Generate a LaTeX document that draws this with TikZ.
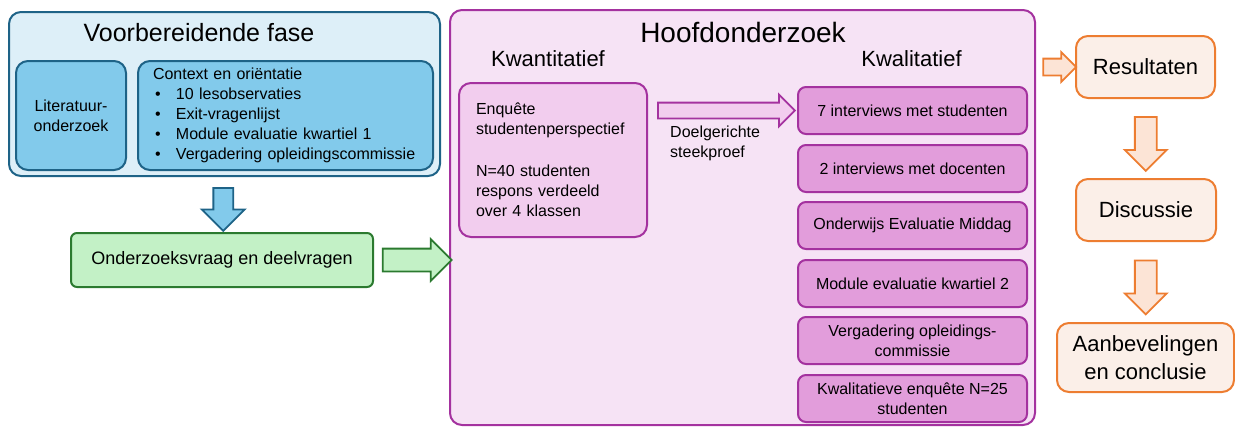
\documentclass[tikz,border=0pt]{standalone}
\usepackage{fontspec}
\setmainfont{Liberation Sans}
\usetikzlibrary{shapes.arrows}

\definecolor{voorrand}{HTML}{1E6387}
\definecolor{voorvlak}{HTML}{DDEFF8}
\definecolor{blauw}{HTML}{82CAEB}
\definecolor{groenrand}{HTML}{2B7A2F}
\definecolor{groen}{HTML}{C3F1C6}
\definecolor{paars}{HTML}{A4329F}
\definecolor{hoofdvlak}{HTML}{F6E3F5}
\definecolor{roze}{HTML}{F2CDEE}
\definecolor{orchidee}{HTML}{E29DDB}
\definecolor{oranje}{HTML}{ED7D31}
\definecolor{perzik}{HTML}{FBEFE8}
\definecolor{perzikpijl}{HTML}{FCE4D6}

\newcommand{\punt}{\hspace*{2pt}\makebox[21pt][l]{\textbullet}}

\begin{document}
\begin{tikzpicture}[x=1pt, y=-1pt,
    tekst/.style={font=\fontsize{16}{20}\selectfont},
    kop/.style={inner sep=0pt, font=\fontsize{22}{26}\selectfont},
    vak/.style={draw, rounded corners=12pt, line width=2pt, inner sep=0pt, align=center},
    blauwvak/.style={vak, draw=voorrand, fill=blauw, tekst},
    kwalvak/.style={vak, rounded corners=8pt, draw=paars, fill=orchidee, tekst,
      minimum width=229pt, minimum height=47pt},
    eindvak/.style={vak, draw=oranje, fill=perzik, font=\fontsize{22}{28}\selectfont},
    blokpijl/.style={single arrow, single arrow tip angle=90, single arrow head indent=0pt,
      inner xsep=0pt, outer sep=0pt, line width=1.8pt}
  ]
    \useasboundingbox (0,0) rectangle (1235,426);

    \node[vak, draw=voorrand, fill=voorvlak, minimum width=431pt, minimum height=164pt] (voor) at (224.5,94) {};
    \node[kop, font=\fontsize{25}{30}\selectfont] (voortitel) at (199,33) {Voorbereidende fase};
    \node[blauwvak, minimum width=110pt, minimum height=109pt] (literatuur) at (71,115.5) {Literatuur-\\onderzoek};
    \node[blauwvak, minimum height=109pt, text width=265pt, inner xsep=15pt, align=left] (context) at (285.5,115.5)
      {Context en oriëntatie\\ \punt 10 lesobservaties\\ \punt Exit-vragenlijst\\
       \punt Module evaluatie kwartiel 1\\ \punt Vergadering opleidingscommissie};

    \node[vak, draw=groenrand, fill=groen, rounded corners=6pt, minimum width=302pt, minimum height=54pt,
      font=\fontsize{18}{22}\selectfont] (vraag) at (222,260) {Onderzoeksvraag en deelvragen};

    \node[vak, draw=paars, fill=hoofdvlak, minimum width=585pt, minimum height=415pt] (hoofd) at (742.5,217.5) {};
    \node[kop, font=\fontsize{28}{32}\selectfont] (hoofdtitel) at (743,32) {Hoofdonderzoek};
    \node[kop] (kwantitatief) at (548,59) {Kwantitatief};
    \node[kop] (kwalitatief) at (911.5,59) {Kwalitatief};

    \node[vak, draw=paars, fill=roze, tekst, minimum height=154pt, text width=154pt, inner xsep=17pt, align=left] (enquete) at (553,160)
      {Enquête\\studentenperspectief\\[22pt]N=40 studenten\\respons verdeeld\\over 4 klassen};
    \node[tekst, inner sep=0pt, anchor=west, align=left] (doel) at (670,143) {Doelgerichte\\steekproef};

    \node[kwalvak] (k1) at (912.5,110.5) {7 interviews met studenten};
    \node[kwalvak] (k2) at (912.5,168.5) {2 interviews met docenten};
    \node[kwalvak] (k3) at (912.5,225.5) {Onderwijs Evaluatie Middag};
    \node[kwalvak] (k4) at (912.5,283.5) {Module evaluatie kwartiel 2};
    \node[kwalvak] (k5) at (912.5,340.5) {Vergadering opleidings-\\commissie};
    \node[kwalvak] (k6) at (912.5,398.5) {Kwalitatieve enquête N=25\\studenten};

    \node[eindvak, minimum width=139pt, minimum height=62pt] (resultaten) at (1145.5,67) {Resultaten};
    \node[eindvak, minimum width=140pt, minimum height=62pt] (discussie) at (1146,210) {Discussie};
    \node[eindvak, minimum width=177pt, minimum height=69pt] (aanbevelingen) at (1145.5,357.5) {Aanbevelingen\\en conclusie};

    % blokpijlen
    \path (voor.south) -- (vraag.north) node[midway, blokpijl, rotate=-90, draw=voorrand, fill=blauw,
      inner ysep=9pt, single arrow head extend=11.5pt, minimum height=43pt] (pijl1) {};
    \path (vraag.east) -- (vraag.east -| hoofd.west) node[midway, blokpijl, draw=groenrand, fill=groen,
      inner ysep=10.5pt, single arrow head extend=9.5pt, minimum height=69pt] (pijl2) {};
    \path (enquete.east |- k1.west) -- (k1.west) node[midway, blokpijl, draw=paars, fill=roze,
      inner ysep=7pt, single arrow head extend=8pt, minimum height=137pt] (pijl3) {};
    \path (hoofd.east |- resultaten.west) -- (resultaten.west) node[midway, blokpijl, draw=oranje, fill=perzikpijl,
      inner ysep=7.5pt, single arrow head extend=6.5pt, minimum height=33pt] (pijl4) {};
    \path (resultaten.south) -- (discussie.north) node[midway, blokpijl, rotate=-90, draw=oranje, fill=perzikpijl,
      inner ysep=10pt, single arrow head extend=10pt, minimum height=54pt] (pijl5) {};
    \path (discussie.south) -- (aanbevelingen.north) node[midway, blokpijl, rotate=-90, draw=oranje, fill=perzikpijl,
      inner ysep=10pt, single arrow head extend=10pt, minimum height=54pt] (pijl6) {};
  \end{tikzpicture}
\end{document}
